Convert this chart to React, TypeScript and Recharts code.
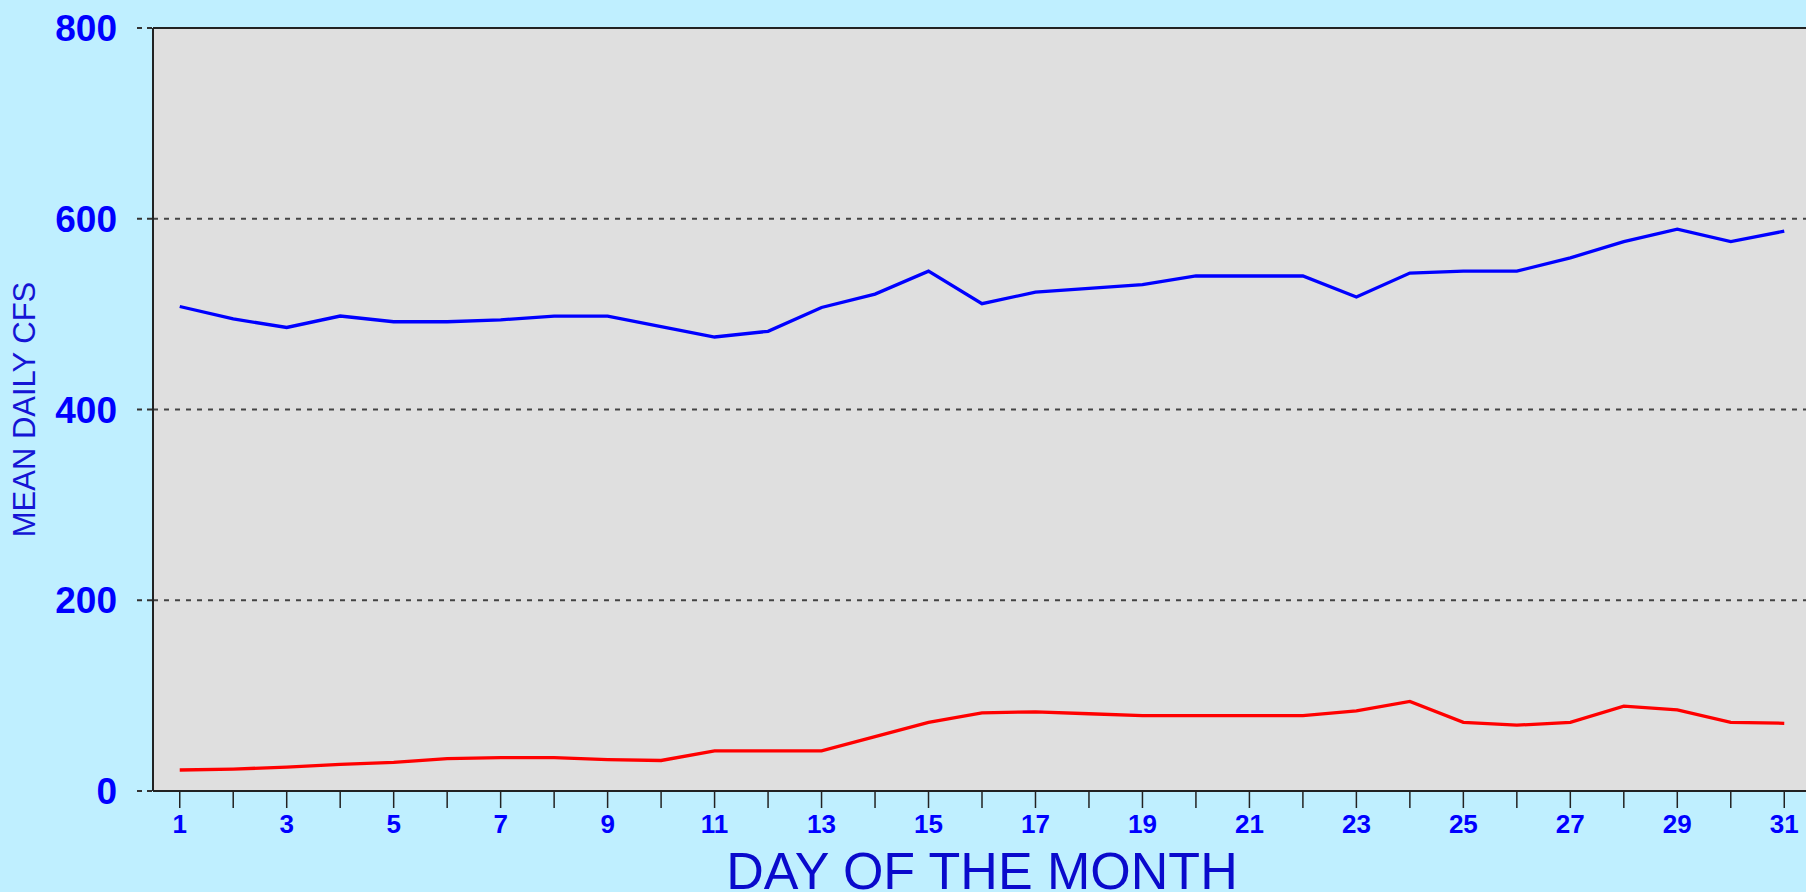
import React from 'react';
import { LineChart, Line, XAxis, YAxis, CartesianGrid, ReferenceLine, Label } from 'recharts';

const days = [1, 2, 3, 4, 5, 6, 7, 8, 9, 10, 11, 12, 13, 14, 15, 16, 17, 18, 19, 20, 21, 22, 23, 24, 25, 26, 27, 28, 29, 30, 31];
const meanFlow = [508, 495, 486, 498, 492, 492, 494, 498, 498, 487, 476, 482, 507, 521, 545, 511, 523, 527, 531, 540, 540, 540, 518, 543, 545, 545, 559, 576, 589, 576, 587];
const lowFlow = [22, 23, 25, 28, 30, 34, 35, 35, 33, 32, 42, 42, 42, 57, 72, 82, 83, 81, 79, 79, 79, 79, 84, 94, 72, 69, 72, 89, 85, 72, 71];
const yTicks = [0, 200, 400, 600, 800];
const xTitle = 'DAY OF THE MONTH';
const yTitle = 'MEAN DAILY CFS';

const data = days.map((d, i) => ({ day: d, mean: meanFlow[i], low: lowFlow[i] }));

const FONT = '"Liberation Sans", Arial, Helvetica, sans-serif';

const XTick = (props: any) => {
  const { x, y, payload } = props;
  if (payload.value % 2 === 0) return <g />;
  return (
    <text x={x} y={y} dy="0.71em" textAnchor="middle" fill="#0000FF" fontFamily={FONT} fontWeight="bold" fontSize={26}>
      {payload.value}
    </text>
  );
};

const YTick = (props: any) => {
  const { x, y, payload } = props;
  return (
    <text x={x} y={y} dy="0.355em" textAnchor="end" fill="#0000FF" fontFamily={FONT} fontWeight="bold" fontSize={37}>
      {payload.value}
    </text>
  );
};

const YTitle = (props: any) => {
  const vb = props.viewBox || { x: 0, y: 28, width: 153, height: 763 };
  const cx = vb.x + 35;
  const cy = vb.y + vb.height / 2;
  return (
    <text x={cx} y={cy} textAnchor="middle" fill="#1515D5" fontFamily={FONT} fontSize={31} transform={`rotate(-90 ${cx} ${cy})`}>
      {yTitle}
    </text>
  );
};

export default function App() {
  return (
    <div style={{ position: 'fixed', left: 0, top: 0, width: 1806, height: 892, overflow: 'hidden', background: '#BFEFFF' }}>
      <LineChart width={1830} height={892} data={data} margin={{ top: 28, right: 19, bottom: 0, left: 0 }}>
        <CartesianGrid vertical={false} fill="#DFDFDF" stroke="#444444" strokeWidth={2} strokeDasharray="5 6" fillOpacity={1} />
        <XAxis
          dataKey="day"
          type="number"
          domain={[0.5, 31.5]}
          ticks={days}
          interval={0}
          height={101}
          tickSize={17}
          tickMargin={7}
          tick={<XTick />}
          axisLine={{ stroke: '#222222', strokeWidth: 2 }}
          tickLine={{ stroke: '#222222', strokeWidth: 1.5 }}
        >
          <Label value={xTitle} position="insideBottom" offset={3} fill="#0A0ACC" fontFamily={FONT} fontSize={52} />
        </XAxis>
        <YAxis
          type="number"
          domain={[0, 800]}
          ticks={yTicks}
          interval={0}
          width={153}
          tickSize={16}
          tickMargin={20}
          tick={<YTick />}
          axisLine={{ stroke: '#222222', strokeWidth: 2 }}
          tickLine={{ stroke: '#333333', strokeWidth: 2, strokeDasharray: '5 5' }}
        >
          <Label content={<YTitle />} />
        </YAxis>
        <ReferenceLine y={800} stroke="#222222" strokeWidth={2} />
        <Line type="linear" dataKey="mean" stroke="#0000FF" strokeWidth={3.3} dot={false} isAnimationActive={false} />
        <Line type="linear" dataKey="low" stroke="#FF0000" strokeWidth={3.3} dot={false} isAnimationActive={false} />
      </LineChart>
    </div>
  );
}
